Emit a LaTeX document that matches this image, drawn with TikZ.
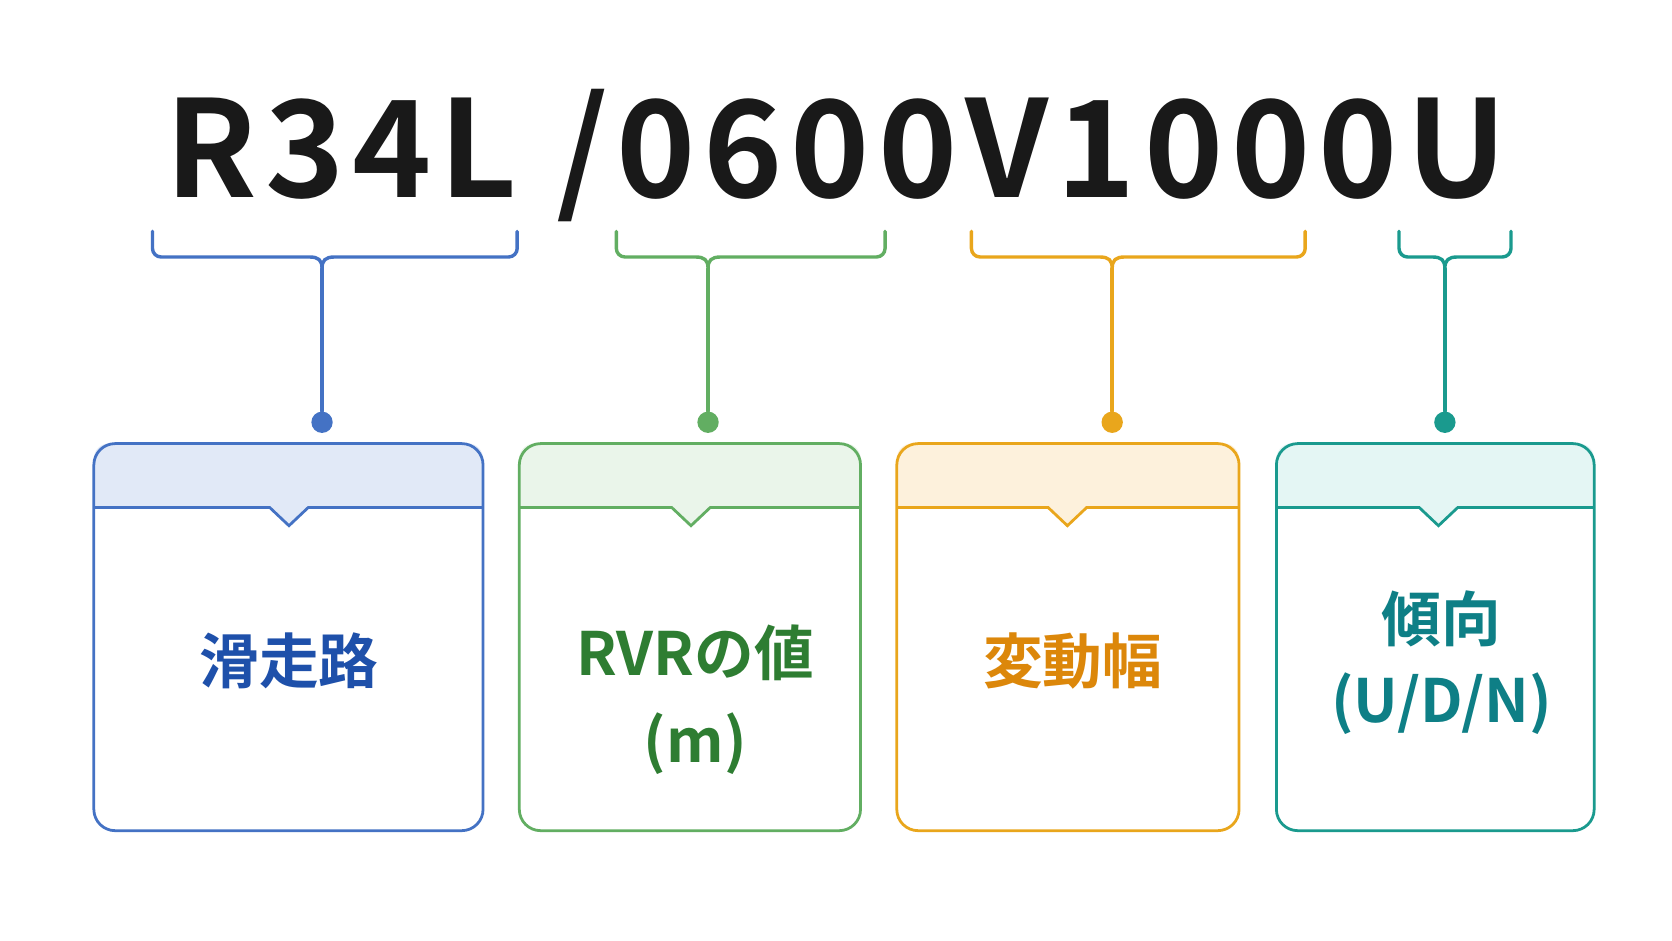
\documentclass[tikz,border=0pt]{standalone}
\usepackage{fontspec}
\setmainfont{Noto Sans}
\newfontfamily\cjk{Noto Sans CJK JP}[BoldFont={* Bold}]
\newfontfamily\titlefont{Noto Sans CJK JP}[LetterSpace=6,BoldFont={* Bold}]
\begin{document}
\begin{tikzpicture}[x=0.5pt,y=-0.5pt,
  br/.style={line width=1.6pt,line cap=round,line join=round},
  dot/.style={circle,inner sep=0pt,minimum size=10pt},
  lbl/.style={font=\cjk\bfseries\fontsize{28}{38}\selectfont,align=center}]
\useasboundingbox (0,0) rectangle (1568,882);
\fill[white] (0,0) rectangle (1568,882);
\node[font=\titlefont\bfseries\fontsize{63}{70}\selectfont,text=black!90,anchor=base] (title) at (784,185) {R34L /0600V1000U};
% braces, dots, boxes
\foreach \n/\xa/\xb/\c/\bx/\bxe/\nc/\col/\fil in {
  a/143/485/302/88/453/271/cb/cbf,
  b/578/830/664/487/807/648/cg/cgf,
  c/911/1224/1043/841/1162/1001/co/cof,
  d/1312/1417/1355/1197/1495/1349/ct/ctf}{
  \definecolor{cb}{HTML}{4472C4}\definecolor{cbf}{HTML}{E1E9F7}
  \definecolor{cg}{HTML}{62AE62}\definecolor{cgf}{HTML}{EAF5EA}
  \definecolor{co}{HTML}{E9A61C}\definecolor{cof}{HTML}{FDF1DC}
  \definecolor{ct}{HTML}{1A9A8E}\definecolor{ctf}{HTML}{E4F6F4}
  \draw[br,\col] (\xa,217) -- (\xa,233) arc[start angle=180,end angle=90,radius=8] -- (\c-12,241)
     .. controls (\c-3,241) and (\c,244) .. (\c,252) .. controls (\c,244) and (\c+3,241) .. (\c+12,241)
     -- (\xb-8,241) arc[start angle=90,end angle=0,radius=8] -- (\xb,217);
  \node[dot,fill=\col] (dot\n) at (\c,396) {};
  \draw[br,\col] (\c,252) -- (dot\n);
  \fill[\fil,rounded corners=7pt] (\bx,416) rectangle (\bxe,476);
  \fill[\fil] (\bx,462) rectangle (\bxe,476);
  \fill[\fil] (\nc-18,476) -- (\nc,493) -- (\nc+18,476) -- cycle;
  \draw[br,\col,line width=1.3pt,rounded corners=10pt] (\bx,416) rectangle (\bxe,779);
  \node[coordinate] (box\n) at (\bx,416) {};
  \draw[\col,line width=1.3pt] (\bx,476) -- (\nc-18,476) -- (\nc,493) -- (\nc+18,476) -- (\bxe,476);
}
\node[lbl,text={rgb,255:red,30;green,80;blue,170}] (t1) at (271,620) {滑走路};
\node[lbl,text={rgb,255:red,46;green,125;blue,50}] (t2) at (652,612) {RVRの値};
\node[lbl,text={rgb,255:red,46;green,125;blue,50}] (t2b) at (652,697) {(m)};
\node[lbl,text={rgb,255:red,220;green,135;blue,10}] (t3) at (1006,620) {変動幅};
\node[lbl,text={rgb,255:red,14;green,127;blue,134}] (t4) at (1352,580) {傾向};
\node[lbl,text={rgb,255:red,14;green,127;blue,134}] (t4b) at (1352,660) {(U/D/N)};
\end{tikzpicture}
\end{document}
